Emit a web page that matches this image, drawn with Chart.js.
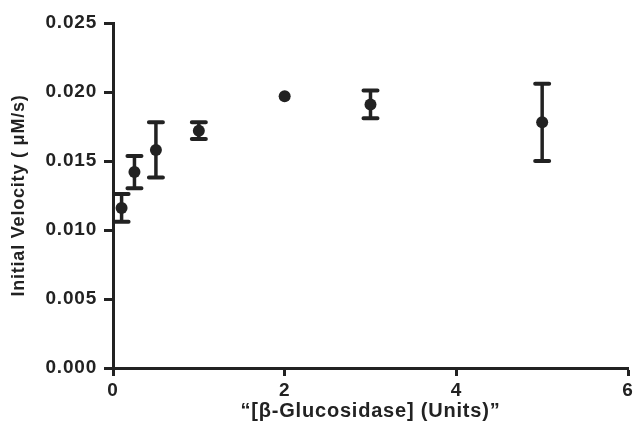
<!DOCTYPE html>
<html>
<head>
<meta charset="utf-8">
<script src="https://cdn.jsdelivr.net/npm/chart.js@4"></script>
<style>
  html, body { margin: 0; padding: 0; background: #fff; overflow: hidden; }
  #wrap { width: 635px; height: 431px; }
</style>
</head>
<body>
<div id="wrap"><canvas id="chart" width="635" height="431"></canvas></div>
<script>
// Enzyme units vs initial velocity, mean +/- error
const units = [0.1, 0.25, 0.5, 1, 2, 3, 5];
const velocity = [0.0116, 0.0142, 0.0158, 0.0172, 0.0197, 0.0191, 0.0178];
const velocityErr = [0.0010, 0.00117, 0.0020, 0.0006, 0, 0.0010, 0.0028];
const xTicks = [0, 2, 4, 6];
const yTicks = [0, 0.005, 0.010, 0.015, 0.020, 0.025];

const INK = '#222';
const FONT = '"Liberation Sans", Arial, Helvetica, sans-serif';

/* error bars, drawn through the chart scales */
const errorBars = {
  id: 'errorBars',
  beforeDatasetsDraw(chart) {
    const { ctx, scales: { x, y } } = chart;
    ctx.save();
    ctx.strokeStyle = INK;
    units.forEach((u, i) => {
      const e = velocityErr[i];
      if (!e) return;
      const px = x.getPixelForValue(u);
      const top = y.getPixelForValue(velocity[i] + e);
      const bot = y.getPixelForValue(velocity[i] - e);
      ctx.lineWidth = 3.5;
      ctx.lineCap = 'butt';
      ctx.beginPath();
      ctx.moveTo(px, top); ctx.lineTo(px, bot);
      ctx.stroke();
      ctx.lineWidth = 4;
      ctx.lineCap = 'round';
      ctx.beginPath();
      ctx.moveTo(px - 7, top); ctx.lineTo(px + 7, top);
      ctx.moveTo(px - 7, bot); ctx.lineTo(px + 7, bot);
      ctx.stroke();
    });
    ctx.restore();
  }
};

/* the original lettering runs a bit wide */
const wideText = {
  id: 'wideText',
  beforeDraw(chart) { chart.ctx.letterSpacing = '0.8px'; }
};

new Chart(document.getElementById('chart'), {
  type: 'scatter',
  data: {
    datasets: [{
      label: 'Initial velocity',
      data: units.map((u, i) => ({ x: u, y: velocity[i] })),
      pointRadius: 6,
      pointHoverRadius: 6,
      pointBackgroundColor: INK,
      pointBorderWidth: 0,
      showLine: false
    }]
  },
  options: {
    responsive: false,
    animation: false,
    layout: { padding: { top: 23, right: 7, left: 0, bottom: 0 } },
    plugins: { legend: { display: false }, tooltip: { enabled: false } },
    scales: {
      x: {
        type: 'linear',
        min: 0, max: 6,
        afterBuildTicks: (s) => { s.ticks = xTicks.map(v => ({ value: v })); },
        afterFit: (s) => { s.height = 63; s.paddingLeft = 0; s.paddingRight = 0; },
        border: { display: true, color: INK, width: 3 },
        grid: { display: true, drawOnChartArea: false, drawTicks: true, tickLength: 8, tickWidth: 3, tickColor: INK },
        ticks: { color: INK, padding: 3, font: { family: FONT, size: 19, weight: 'bold' }, maxRotation: 0 },
        title: {
          display: true,
          text: '“[β-Glucosidase] (Units)”',
          color: INK,
          font: { family: FONT, size: 20, weight: 'bold' },
          padding: { top: 0, bottom: 8 }
        }
      },
      y: {
        type: 'linear',
        min: 0, max: 0.025,
        afterBuildTicks: (s) => { s.ticks = yTicks.map(v => ({ value: v })); },
        afterFit: (s) => { s.width = 113; s.paddingTop = 0; s.paddingBottom = 0; },
        border: { display: true, color: INK, width: 3 },
        grid: { display: true, drawOnChartArea: false, drawTicks: true, tickLength: 9, tickWidth: 3, tickColor: INK },
        ticks: {
          color: INK, padding: 7,
          font: { family: FONT, size: 19, weight: 'bold' },
          callback: (v) => Number(v).toFixed(3)
        },
        title: {
          display: true,
          text: 'Initial Velocity ( μM/s)',
          color: INK,
          font: { family: FONT, size: 18, weight: 'bold' },
          padding: { top: 8, bottom: 0 }
        }
      }
    }
  },
  plugins: [wideText, errorBars]
});
</script>
</body>
</html>
